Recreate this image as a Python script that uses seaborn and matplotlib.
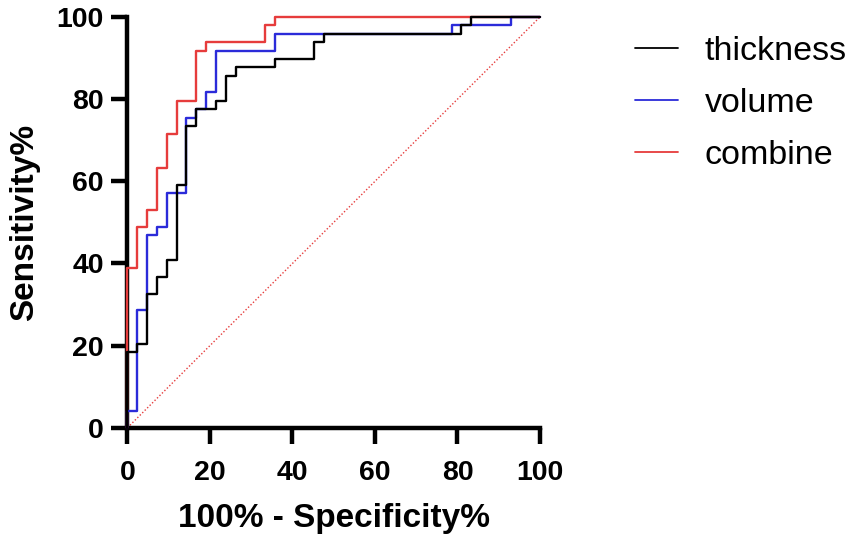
import matplotlib
matplotlib.use("Agg")
import matplotlib.pyplot as plt
import seaborn as sns
import pandas as pd

# ROC step vertices (100% - Specificity%, Sensitivity%)
thickness_x = [0, 0, 2.38, 4.76, 7.14, 9.52, 11.90, 14.29, 16.67, 21.43, 23.81, 26.19, 35.71, 45.24, 47.62, 80.95, 83.33, 100]
thickness_y = [0, 18.37, 20.41, 32.65, 36.73, 40.82, 59.18, 73.47, 77.55, 79.59, 85.71, 87.76, 89.80, 93.88, 95.92, 97.96, 100, 100]

volume_x = [0, 0, 2.38, 4.76, 7.14, 9.52, 14.29, 16.67, 19.05, 21.43, 35.71, 78.57, 92.86, 100]
volume_y = [0, 4.08, 28.57, 46.94, 48.98, 57.14, 75.51, 77.55, 81.63, 91.84, 95.92, 97.96, 100, 100]

combine_x = [0, 0, 2.38, 4.76, 7.14, 9.52, 11.90, 16.67, 19.05, 33.33, 35.71, 100]
combine_y = [0, 38.78, 48.98, 53.06, 63.27, 71.43, 79.59, 91.84, 93.88, 97.96, 100, 100]

reference_x = [0, 100]
reference_y = [0, 100]

series_names = ["thickness", "volume", "combine"]
series_colors = {"thickness": "#000000", "volume": "#2B2BD9", "combine": "#E63C3C"}

frames = {}
for name, xs, ys in [("thickness", thickness_x, thickness_y),
                     ("volume", volume_x, volume_y),
                     ("combine", combine_x, combine_y)]:
    frames[name] = pd.DataFrame({"fpr": xs, "tpr": ys, "series": name})

sns.set_style("ticks")
plt.rcParams['font.family'] = ['Liberation Sans', 'DejaVu Sans']
plt.rcParams['text.color'] = 'black'
plt.rcParams['axes.labelcolor'] = 'black'
plt.rcParams['xtick.color'] = 'black'
plt.rcParams['ytick.color'] = 'black'

fig = plt.figure(figsize=(8.51, 5.44), dpi=100)
ax = fig.add_axes([127.5 / 851, 1 - 427.7 / 544, (540 - 127.5) / 851, (427.7 - 17) / 544])

# diagonal reference
sns.lineplot(x=reference_x, y=reference_y, ax=ax, color="#E63C3C", lw=1.0,
             linestyle=(0, (1, 1.5)), zorder=1)

# draw combine first so black/blue lie on top at the axis
for name in ["combine", "volume", "thickness"]:
    sns.lineplot(data=frames[name], x="fpr", y="tpr", ax=ax, sort=False, estimator=None,
                 color=series_colors[name], lw=1.7, drawstyle="steps-post",
                 label=name, zorder=3, clip_on=False)

ax.set_xlim(0, 100)
ax.set_ylim(0, 100)
ax.set_xticks([0, 20, 40, 60, 80, 100])
ax.set_yticks([0, 20, 40, 60, 80, 100])

for side in ["top", "right"]:
    ax.spines[side].set_visible(False)
for side in ["left", "bottom"]:
    ax.spines[side].set_linewidth(3.2)
    ax.spines[side].set_color("black")
    ax.spines[side].set_capstyle("projecting")

ax.tick_params(axis="both", which="major", length=11.5, width=3.2, color="black",
               labelcolor="black", labelsize=20.5, direction="out")
ax.tick_params(axis="x", pad=12)
ax.tick_params(axis="y", pad=5.5)
for lab in ax.get_xticklabels() + ax.get_yticklabels():
    lab.set_fontweight("bold")

ax.set_xlabel("100% - Specificity%", fontsize=24, fontweight="bold", labelpad=12, color="black")
ax.set_ylabel("Sensitivity%", fontsize=24, fontweight="bold", labelpad=12, color="black")

handles, labels = ax.get_legend_handles_labels()
order = [labels.index(n) for n in series_names]
leg = ax.legend([handles[i] for i in order], [labels[i] for i in order],
                loc="upper left", bbox_to_anchor=(604 / 851, 1 - 5 / 544),
                bbox_transform=fig.transFigure, frameon=False, fontsize=24.5,
                handlelength=1.27, handletextpad=0.78, labelspacing=0.62)
for line in leg.get_lines():
    line.set_linewidth(1.3)
for t in leg.get_texts():
    t.set_color("black")

fig.savefig("out.png", dpi=100)
